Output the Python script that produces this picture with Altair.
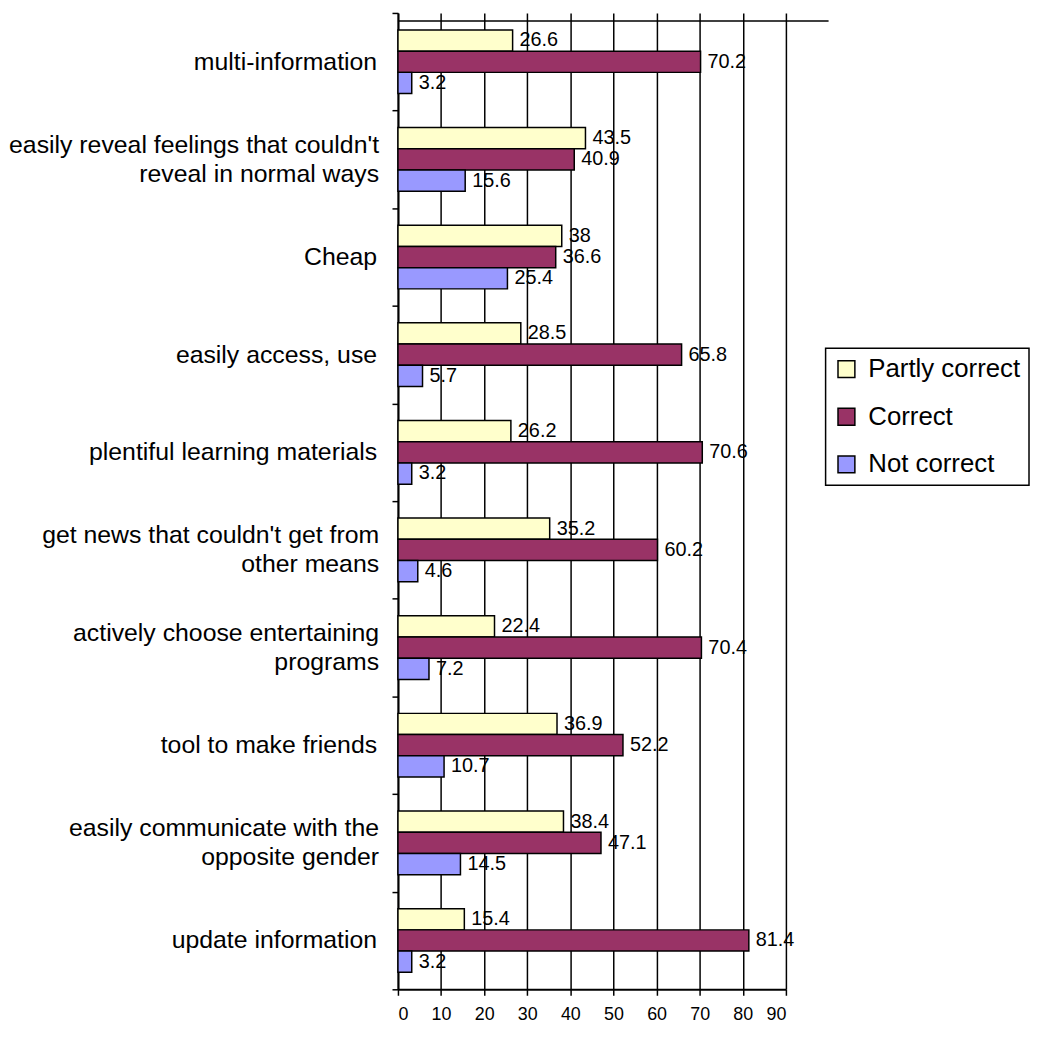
import altair as alt
import pandas as pd

FONT = "Liberation Sans"

categories = [
    "multi-information",
    "easily reveal feelings that couldn't\nreveal in normal ways",
    "Cheap",
    "easily access, use",
    "plentiful learning materials",
    "get news that couldn't get from\nother means",
    "actively choose entertaining\nprograms",
    "tool to make friends",
    "easily communicate with the\nopposite gender",
    "update information",
]
series = ["Partly correct", "Correct", "Not correct"]
partly_correct = [26.6, 43.5, 38, 28.5, 26.2, 35.2, 22.4, 36.9, 38.4, 15.4]
correct = [70.2, 40.9, 36.6, 65.8, 70.6, 60.2, 70.4, 52.2, 47.1, 81.4]
not_correct = [3.2, 15.6, 25.4, 5.7, 3.2, 4.6, 7.2, 10.7, 14.5, 3.2]
colors = ["#FFFFCC", "#993366", "#9999FF"]
x_ticks = [0, 10, 20, 30, 40, 50, 60, 70, 80, 90]

rows = []
for name, vals in zip(series, [partly_correct, correct, not_correct]):
    for cat, v in zip(categories, vals):
        rows.append({"category": cat, "series": name, "value": v})
df = pd.DataFrame(rows)
cat_df = pd.DataFrame({"category": categories})

y_enc = alt.Y(
    "category:N",
    sort=categories,
    scale=alt.Scale(paddingInner=0, paddingOuter=0),
    axis=alt.Axis(
        title=None,
        labels=False,
        tickBand="extent",
        tickSize=6,
        tickColor="black",
        tickWidth=1.5,
        domainColor="black",
        domainWidth=2,
        grid=False,
    ),
)
yoff_enc = alt.YOffset(
    "series:N", sort=series, scale=alt.Scale(paddingInner=0, paddingOuter=0.8)
)
x_enc = alt.X(
    "value:Q",
    scale=alt.Scale(domain=[0, 90], nice=False),
    axis=alt.Axis(
        title=None,
        values=x_ticks,
        labelFont=FONT,
        labelFontSize=18,
        labelColor="black",
        labelPadding=10,
        tickSize=6,
        tickColor="black",
        tickWidth=1.5,
        domainColor="black",
        domainWidth=2,
        grid=True,
        gridColor="black",
        gridWidth=1.5,
        gridOpacity=1,
    ),
)

bars = alt.Chart(df).mark_bar(stroke="black", strokeWidth=1.5).encode(
    y=y_enc,
    yOffset=yoff_enc,
    x=x_enc,
    color=alt.Color(
        "series:N",
        sort=series,
        scale=alt.Scale(domain=series, range=colors),
        legend=alt.Legend(
            title=None,
            orient="none",
            legendX=431,
            legendY=338,
            direction="vertical",
            symbolType="square",
            symbolSize=289,
            symbolStrokeColor="black",
            symbolStrokeWidth=1.5,
            symbolOpacity=1,
            labelFont=FONT,
            labelFontSize=26,
            labelColor="black",
            labelOffset=9,
            labelLimit=400,
            rowPadding=22,
            padding=8,
            strokeColor="black",
            fillColor="white",
        ),
    ),
)

value_labels = alt.Chart(df).mark_text(
    align="left", baseline="middle", dx=7, font=FONT, fontSize=20, color="black"
).encode(
    y=y_enc,
    yOffset=yoff_enc,
    x=x_enc,
    text=alt.Text("value:Q", format="~g"),
)

cat_one_line = (
    alt.Chart(cat_df)
    .transform_filter("indexof(datum.category, '\\n') < 0")
    .mark_text(align="right", baseline="middle", font=FONT, fontSize=25, color="black")
    .encode(y=y_enc, x=alt.value(-21), text="category:N")
)
cat_two_lines = (
    alt.Chart(cat_df)
    .transform_filter("indexof(datum.category, '\\n') >= 0")
    .mark_text(
        align="right",
        baseline="middle",
        font=FONT,
        fontSize=25,
        color="black",
        lineBreak="\n",
        lineHeight=29,
        dy=-14.5,
    )
    .encode(y=y_enc, x=alt.value(-19), text="category:N")
)

top_line = alt.Chart(pd.DataFrame({"k": [0]})).mark_rule(
    stroke="black", strokeWidth=1.5
).encode(x=alt.value(0), x2=alt.value(434), y=alt.value(8))

chart = (
    alt.layer(bars, value_labels, cat_one_line, cat_two_lines, top_line)
    .properties(
        width=391,
        height=984,
        padding={"left": 0, "top": 0, "right": 0, "bottom": 0},
    )
    .configure_view(strokeWidth=0)
    .configure_legend(strokeWidth=1.5)
)

chart.save("out.html", embed_options={"renderer": "svg", "actions": False})
